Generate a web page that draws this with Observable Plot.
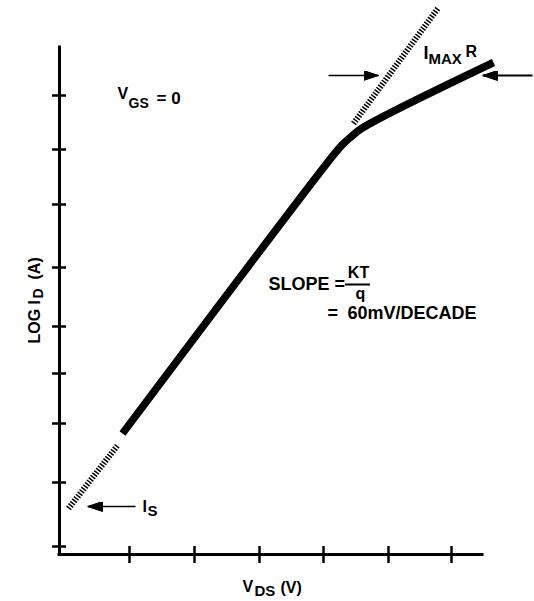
<!DOCTYPE html>
<html><head><meta charset="utf-8">
<script src="https://cdn.jsdelivr.net/npm/d3@7"></script>
<script src="https://cdn.jsdelivr.net/npm/@observablehq/plot@0.6"></script>
<style>body{margin:0;background:#fff} svg{display:block}</style>
</head><body><div id="chart"></div>
<script>
// Axis tick positions (arbitrary units)
const xTicks = [70, 135, 200, 264, 329, 392];
const yTicks = [8, 72, 131, 181, 228, 287, 350, 405, 459];
// Measured I-V curve (log scale of ID vs VDS)
const curveX = [63, 276, 284, 292, 302, 434];
const curveY = [121, 402, 411, 418, 426, 492];
// Extrapolated (hatched) segments
const lowX = [9, 58];
const lowY = [46, 109];
const highX = [294, 379];
const highY = [431, 547];
// Arrows
const arrows = [
  {x1: 269, y1: 479, x2: 319, y2: 479, w: 1.5},
  {x1: 473, y1: 479, x2: 423, y2: 479, w: 2},
  {x1: 76, y1: 48, x2: 28, y2: 48, w: 1.5}
];

const NS = "http://www.w3.org/2000/svg";
function arrowFilled(color) {
  const m = document.createElementNS(NS, "marker");
  m.setAttribute("viewBox", "0 -5 15 10");
  m.setAttribute("refX", "15");
  m.setAttribute("refY", "0");
  m.setAttribute("markerWidth", "15");
  m.setAttribute("markerHeight", "10");
  m.setAttribute("markerUnits", "userSpaceOnUse");
  m.setAttribute("orient", "auto");
  const p = document.createElementNS(NS, "path");
  p.setAttribute("d", "M0,-5L15,0L0,5Z");
  p.setAttribute("fill", color);
  m.appendChild(p);
  return m;
}

const zip = (xs, ys) => xs.map((x, i) => ({x, y: ys[i]}));

function label(t, x, y, size, opts = {}) {
  return Plot.text([{t, x, y}], {x: "x", y: "y", text: "t", fontSize: size, fontWeight: "bold",
    textAnchor: "start", lineAnchor: "bottom", fill: "black", ...opts});
}

const plot = Plot.plot({
  width: 534, height: 601,
  marginLeft: 59, marginRight: 51, marginTop: 0, marginBottom: 47,
  x: {domain: [0, 424], axis: null},
  y: {domain: [0, 554], axis: null},
  style: {fontFamily: "'Liberation Sans', Arial, sans-serif", background: "white"},
  marks: [
    Plot.ruleX([0], {y1: 0, y2: 507, strokeWidth: 3, strokeLinecap: "square"}),
    Plot.ruleY([0], {x1: 0, x2: 423, strokeWidth: 3, strokeLinecap: "square"}),
    Plot.ruleY(yTicks, {x1: -7, x2: 7, strokeWidth: 2.5}),
    Plot.ruleX(xTicks, {y1: -9, y2: 8, strokeWidth: 2.5}),
    Plot.line(zip(lowX, lowY), {x: "x", y: "y", stroke: "black", strokeWidth: 6, strokeDasharray: "1.5,1.5", strokeLinecap: "butt"}),
    Plot.line(zip(highX, highY), {x: "x", y: "y", stroke: "black", strokeWidth: 6, strokeDasharray: "1.5,1.5", strokeLinecap: "butt"}),
    Plot.line(zip(curveX, curveY), {x: "x", y: "y", stroke: "black", strokeWidth: 7.5, curve: "catmull-rom", strokeLinecap: "butt"}),
    Plot.link(arrows, {x1: "x1", y1: "y1", x2: "x2", y2: "y2", stroke: "black", strokeWidth: "w", markerEnd: arrowFilled}),
    // V_GS = 0
    label("V", 58, 456, 16),
    label("GS", 69, 447, 14),
    label("= 0", 97, 451, 17),
    // SLOPE = KT/q
    label("SLOPE =", 209, 265, 18),
    label("KT", 299, 277, 16, {textAnchor: "middle"}),
    Plot.ruleY([270], {x1: 286, x2: 311, strokeWidth: 2}),
    label("q", 301, 256, 16, {textAnchor: "middle"}),
    label("=", 268, 236, 18),
    label("60mV/DECADE", 288, 236, 18),
    // I_MAX R
    label("I", 364, 496, 18),
    label("MAX", 369, 491, 15),
    label("R", 406, 498, 16),
    // I_S
    label("I", 83, 43, 16),
    label("S", 88, 39, 15),
    // V_DS (V)
    label("V", 183, -37, 16),
    label("DS", 195, -41, 15),
    label("(V)", 221, -38, 16),
    // LOG I_D (A)
    label("LOG I", -19.5, 211, 16, {rotate: -90}),
    label("D", -17, 256, 14, {rotate: -90}),
    label("(A)", -19.5, 275, 16, {rotate: -90})
  ]
});

document.getElementById("chart").appendChild(plot);
</script></body></html>
